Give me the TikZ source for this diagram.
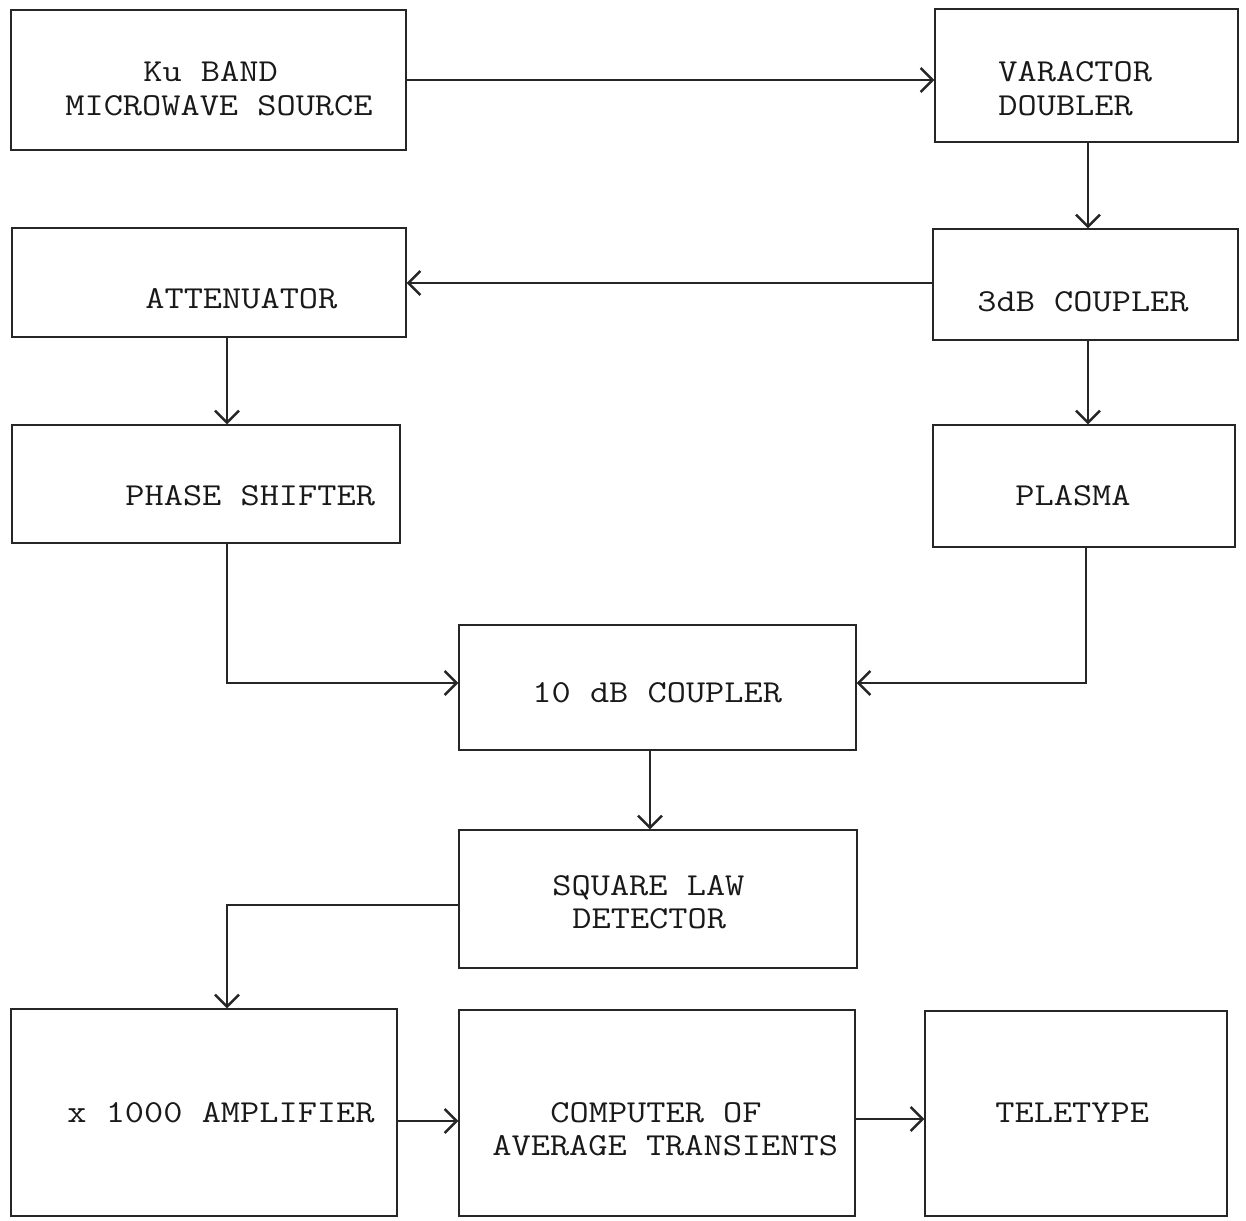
\documentclass[tikz,border=0pt]{standalone}
\usepackage{fontspec}
\setmonofont[FakeStretch=1.165]{Latin Modern Mono}
\usetikzlibrary{arrows.meta,fit}
\begin{document}
\begin{tikzpicture}[x=0.5pt,y=-0.5pt,
  box/.style={draw=black!85, line width=0.7pt, rectangle, inner sep=0pt, fit={#1}},
  lbl/.style={anchor=base west, inner sep=0pt, font=\fontsize{16pt}{19pt}\ttfamily, text=black!90},
  flow/.style={draw=black!85, line width=0.7pt, -{Straight Barb[length=6pt,width=12pt,line width=1.2pt]}}]
\useasboundingbox (0,0) rectangle (1246,1220);

% boxes
\node[box={(11,10) (406,150)}]    (ku)   {};
\node[box={(935,9) (1238,142)}]   (var)  {};
\node[box={(12,228) (406,337)}]   (att)  {};
\node[box={(933,229) (1238,340)}] (cpl3) {};
\node[box={(12,425) (400,543)}]   (ps)   {};
\node[box={(933,425) (1235,547)}] (pl)   {};
\node[box={(459,625) (856,750)}]  (c10)  {};
\node[box={(459,830) (857,968)}]  (sld)  {};
\node[box={(11,1009) (397,1216)}] (amp)  {};
\node[box={(459,1010) (855,1216)}] (comp) {};
\node[box={(925,1011) (1227,1216)}] (tt) {};

% labels
\node[lbl] (ku1) at (143,82) {Ku BAND};
\node[lbl] (ku2) at (65,115) {MICROWAVE SOURCE};
\node[lbl] (var1) at (998,82) {VARACTOR};
\node[lbl] (var2) at (998,115) {DOUBLER};
\node[lbl] (att1) at (145,308) {ATTENUATOR};
\node[lbl] (cpl31) at (977,311) {3dB COUPLER};
\node[lbl] (ps1) at (125,505) {PHASE SHIFTER};
\node[lbl] (pl1) at (1015,505) {PLASMA};
\node[lbl] (c101) at (532,702) {10 dB COUPLER};
\node[lbl] (sld1) at (552,895) {SQUARE LAW};
\node[lbl] (sld2) at (572,928) {DETECTOR};
\node[lbl] (amp1) at (67,1122) {x 1000 AMPLIFIER};
\node[lbl] (comp1) at (550,1122) {COMPUTER OF};
\node[lbl] (comp2) at (492,1155) {AVERAGE TRANSIENTS};
\node[lbl] (tt1) at (995,1122) {TELETYPE};

% helper coordinates
\coordinate (xa) at (227,0);
\coordinate (xb) at (650,0);
\coordinate (xc) at (1088,0);
\coordinate (xd) at (1086,0);
\coordinate (ya) at (0,80);
\coordinate (yb) at (0,283);
\coordinate (yc) at (0,683);
\coordinate (yd) at (0,905);
\coordinate (ye) at (0,1121);
\coordinate (yf) at (0,1119);

% connectors
\draw[flow] (ku.east |- ya) -- (var.west |- ya);
\draw[flow] (xc |- var.south) -- (xc |- cpl3.north);
\draw[flow] (cpl3.west |- yb) -- (att.east |- yb);
\draw[flow] (xc |- cpl3.south) -- (xc |- pl.north);
\draw[flow] (xa |- att.south) -- (xa |- ps.north);
\draw[flow] (xa |- ps.south) |- (c10.west |- yc);
\draw[flow] (xd |- pl.south) |- (c10.east |- yc);
\draw[flow] (xb |- c10.south) -- (xb |- sld.north);
\draw[flow] (sld.west |- yd) -| (xa |- amp.north);
\draw[flow] (amp.east |- ye) -- (comp.west |- ye);
\draw[flow] (comp.east |- yf) -- (tt.west |- yf);
\end{tikzpicture}
\end{document}
